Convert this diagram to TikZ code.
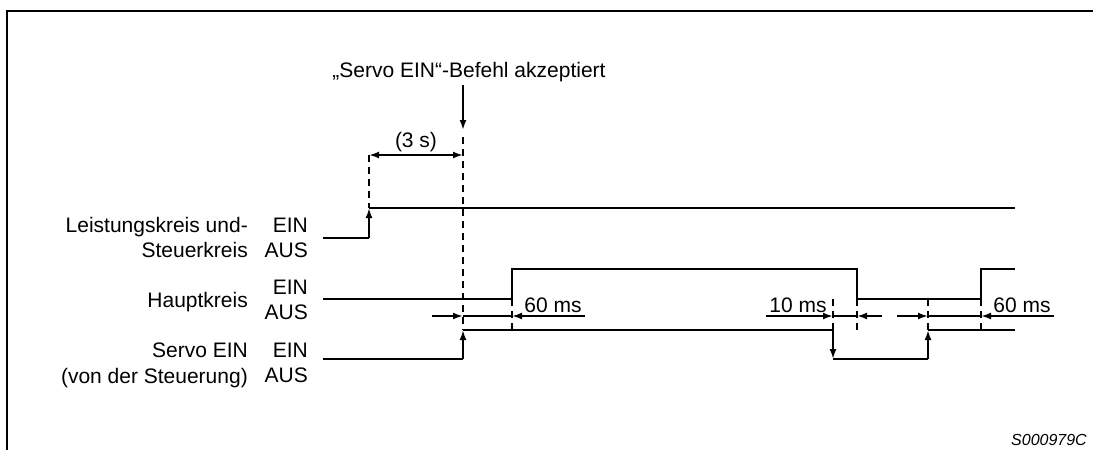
\documentclass[tikz,border=0pt]{standalone}
\usepackage{fontspec}
\setmainfont{Liberation Sans}
\usetikzlibrary{arrows.meta}
\begin{document}
\begin{tikzpicture}[x=1pt,y=-1pt,
  lbl/.style={inner sep=0pt,font=\fontsize{21}{25}\selectfont},
  sig/.style={line width=1.4pt},
  edgearrow/.style={line width=2.2pt,-{Latex[length=10pt,width=7pt]}},
  dimarrow/.style={line width=2.4pt,-{Latex[length=10pt,width=7pt]}},
  dimboth/.style={line width=2.4pt,{Latex[length=10pt,width=7pt]}-{Latex[length=10pt,width=7pt]}},
  dimthin/.style={line width=1.4pt},
  guide/.style={line width=2.4pt,dash pattern=on 7pt off 5pt}]
\useasboundingbox (0,0) rectangle (1093,450);
% frame
\draw[line width=2.6pt] (7,451) -- (7,11) -- (1094,11);

% labels
\node[lbl,anchor=base east] (l1a) at (248,232) {Leistungskreis und-};
\node[lbl,anchor=base east] (l1b) at (248,257) {Steuerkreis};
\node[lbl,anchor=base east] (l2) at (248,307) {Hauptkreis};
\node[lbl,anchor=base east] (l3a) at (248,357) {Servo EIN};
\node[lbl,anchor=base east] (l3b) at (248,383) {(von der Steuerung)};
\node[lbl,anchor=base east] (e1) at (308,232) {EIN};
\node[lbl,anchor=base east] (a1) at (308,257) {AUS};
\node[lbl,anchor=base east] (e2) at (308,294) {EIN};
\node[lbl,anchor=base east] (a2) at (308,319) {AUS};
\node[lbl,anchor=base east] (e3) at (308,357) {EIN};
\node[lbl,anchor=base east] (a3) at (308,382) {AUS};

\node[lbl,anchor=base] (title) at (469,77) {„Servo EIN“-Befehl akzeptiert};
\node[lbl,anchor=base] (t3s) at (416,147) {(3 s)};
\node[lbl,anchor=base] (t60a) at (553,312) {60 ms};
\node[lbl,anchor=base] (t10) at (798,312) {10 ms};
\node[lbl,anchor=base] (t60b) at (1022,312) {60 ms};
\node[inner sep=0pt,anchor=base east,font=\fontsize{16}{19}\selectfont\itshape] (ref) at (1087,445) {S000979C};

% coordinates
\coordinate (p1s) at (323,238); \coordinate (p1l) at (369,238);
\coordinate (p1h) at (369,208); \coordinate (p1e) at (1015,208);
\coordinate (h0) at (323,299); \coordinate (h1) at (512,299); \coordinate (h2) at (512,269);
\coordinate (h3) at (857,269); \coordinate (h4) at (857,299); \coordinate (h5) at (981,299);
\coordinate (h6) at (981,269); \coordinate (h7) at (1015,269);
\coordinate (s0) at (323,359); \coordinate (s1) at (463,359); \coordinate (s2) at (463,330);
\coordinate (s3) at (833,330); \coordinate (s4) at (833,359); \coordinate (s5) at (928,359);
\coordinate (s6) at (928,330); \coordinate (s7) at (1015,330);

% signal 1
\draw[sig] (p1s) -- (p1l);
\draw[edgearrow] (p1l) -- (p1h);
\draw[sig] (p1h) -- (p1e);
% Hauptkreis
\draw[sig] (h0) -- (h1) -- (h2) -- (h3) -- (h4) -- (h5) -- (h6) -- (h7);
% Servo
\draw[sig] (s0) -- (s1);
\draw[edgearrow] (s1) -- (s2);
\draw[sig] (s2) -- (s3);
\draw[edgearrow] (s3) -- (s4);
\draw[sig] (s4) -- (s5);
\draw[edgearrow] (s5) -- (s6);
\draw[sig] (s6) -- (s7);

% guide (dashed) lines
\coordinate (g1a) at (369,155);
\coordinate (g2a) at (463,137); \coordinate (g2b) at (463,330);
\coordinate (g3b) at (512,330);
\coordinate (g4a) at (833,299); \coordinate (g5a) at (857,299); \coordinate (g5b) at (857,330);
\coordinate (g6a) at (928,299); \coordinate (g7b) at (981,330);
\draw[guide] (g1a) -- (p1h);
\draw[guide] (g2a) -- (g2b);
\draw[guide] (h1) -- (g3b);
\draw[guide] (g4a) -- (s3);
\draw[guide] (g5a) -- (g5b);
\draw[guide] (g6a) -- (s6);
\draw[guide] (h5) -- (g7b);

% command arrow
\coordinate (c0) at (463,85); \coordinate (c1) at (463,130);
\draw[dimarrow] (c0) -- (c1);
% (3 s)
\coordinate (d3a) at (369,155); \coordinate (d3b) at (463,155);
\draw[dimboth] (d3a) -- (d3b);

% 60 ms (first)
\coordinate (m1) at (432,316); \coordinate (m2) at (463,316);
\coordinate (m3) at (512,316); \coordinate (m4) at (585,316);
\draw[dimarrow] (m1) -- (m2);
\draw[dimthin] (m2) -- (m3);
\draw[dimarrow] (m4) -- (m3);
% 10 ms
\coordinate (n1) at (766,316); \coordinate (n2) at (833,316);
\coordinate (n3) at (857,316); \coordinate (n4) at (882,316);
\draw[dimarrow] (n1) -- (n2);
\draw[dimthin] (n2) -- (n3);
\draw[dimarrow] (n4) -- (n3);
% 60 ms (second)
\coordinate (q1) at (897,316); \coordinate (q2) at (928,316);
\coordinate (q3) at (981,316); \coordinate (q4) at (1054,316);
\draw[dimarrow] (q1) -- (q2);
\draw[dimthin] (q2) -- (q3);
\draw[dimarrow] (q4) -- (q3);
\end{tikzpicture}
\end{document}
